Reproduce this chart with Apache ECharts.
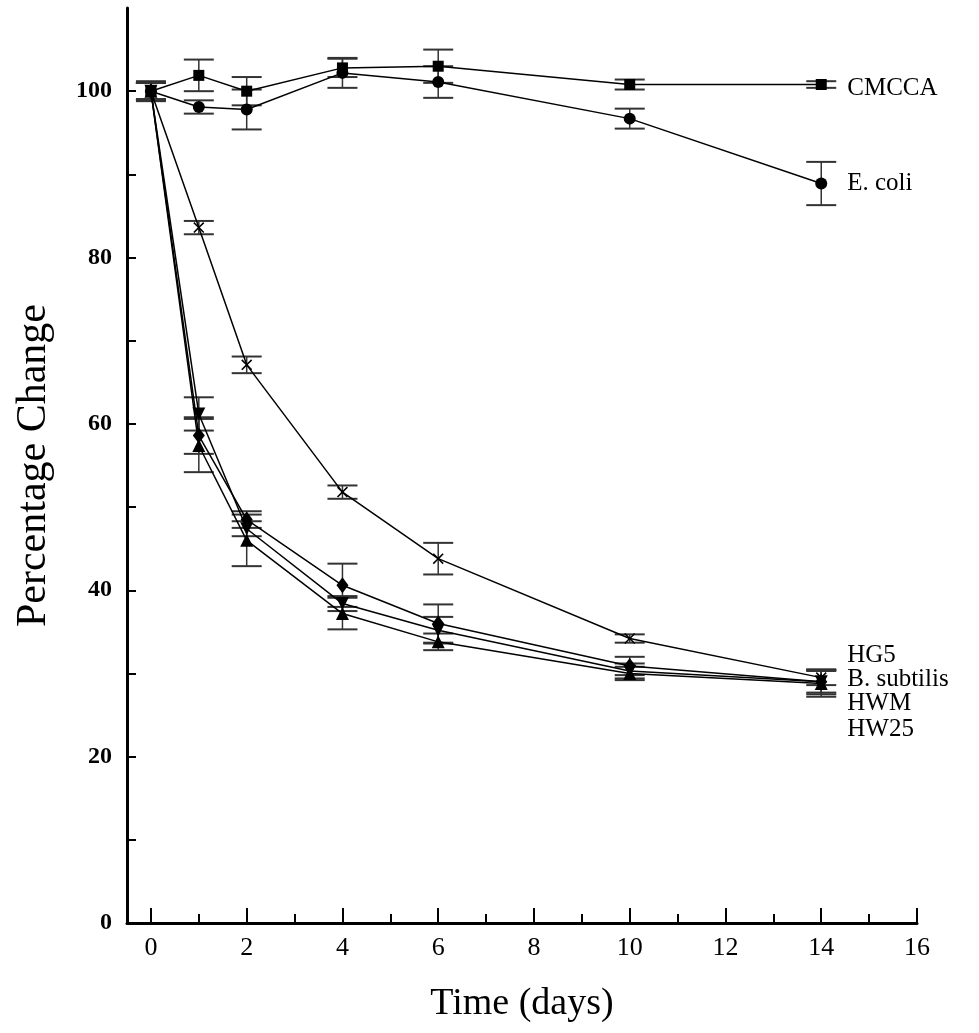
<!DOCTYPE html>
<html>
<head>
<meta charset="utf-8">
<script src="https://cdn.jsdelivr.net/npm/echarts@6.0.0/dist/echarts.min.js"></script>
<style>
  html, body { margin: 0; padding: 0; background: #fff; }
  #chart { width: 979px; height: 1033px; }
</style>
</head>
<body>
<div id="chart"></div>
<script>
// sampling days
const days = [0, 1, 2, 4, 6, 10, 14]

// mean percentage change per series
const cmcca = [100, 101.9, 100.0, 102.8, 103.0, 100.8, 100.8]
const ecoli = [100, 98.1, 97.8, 102.2, 101.1, 96.7, 88.9]
const hg5 = [100, 83.6, 67.1, 51.8, 43.8, 34.2, 29.5]
const bsubtilis = [100, 58.6, 48.5, 40.6, 36.0, 30.9, 29.0]
const hwm = [100, 61.2, 47.4, 38.4, 35.2, 30.3, 29.0]
const hw25 = [100, 57.4, 46.0, 37.2, 33.8, 30.0, 28.8]

// error bar half-heights
const cmccaErr = [1.2, 1.9, 1.7, 1.1, 2.0, 0.6, 0.4]
const ecoliErr = [1.0, 0.8, 2.4, 1.8, 1.9, 1.2, 2.6]
const hg5Err = [1.0, 0.8, 1.0, 0.8, 1.9, 0.5, 0.9]
const bsubtilisErr = [1.0, 2.2, 1.0, 2.6, 2.3, 1.1, 1.3]
const hwmErr = [1.0, 2.0, 0.9, 0.9, 1.6, 0.9, 1.5]
const hw25Err = [1.0, 3.2, 3.1, 1.9, 1.0, 0.8, 1.6]

// axis ticks
const xMajorTicks = [0, 2, 4, 6, 8, 10, 12, 14, 16]
const xMinorTicks = [1, 3, 5, 7, 9, 11, 13, 15]
const yLabels = [0, 20, 40, 60, 80, 100]
const yTicks = [10, 20, 30, 40, 50, 60, 70, 80, 90, 100]

const serif = '"Liberation Serif", "Times New Roman", serif'
const xCross = 'path://M0,1 L1,0 L5,4 L9,0 L10,1 L6,5 L10,9 L9,10 L5,6 L1,10 L0,9 L4,5 Z'

const seriesDefs = [
  { name: 'CMCCA', values: cmcca, err: cmccaErr, symbol: 'rect', size: 11, rotate: 0, labelDy: 4 },
  { name: 'E. coli', values: ecoli, err: ecoliErr, symbol: 'circle', size: 12, rotate: 0, labelDy: 0 },
  { name: 'HG5', values: hg5, err: hg5Err, symbol: xCross, size: 11, rotate: 0, labelDy: -22 },
  { name: 'B. subtilis', values: bsubtilis, err: bsubtilisErr, symbol: 'diamond', size: [12, 16], rotate: 0, labelDy: -2 },
  { name: 'HWM', values: hwm, err: hwmErr, symbol: 'triangle', size: 13, rotate: 180, labelDy: 22 },
  { name: 'HW25', values: hw25, err: hw25Err, symbol: 'triangle', size: 13, rotate: 0, labelDy: 46 }
]

const errorBarRender = (params, api) => {
  const x = api.value(0)
  const lo = api.coord([x, api.value(1)])
  const hi = api.coord([x, api.value(2)])
  const w = 15
  const style = { stroke: '#333', lineWidth: 2 }
  return {
    type: 'group',
    children: [
      { type: 'line', shape: { x1: lo[0], y1: lo[1], x2: hi[0], y2: hi[1] }, style: { stroke: '#333', lineWidth: 1.5 } },
      { type: 'line', shape: { x1: lo[0] - w, y1: lo[1], x2: lo[0] + w, y2: lo[1] }, style },
      { type: 'line', shape: { x1: hi[0] - w, y1: hi[1], x2: hi[0] + w, y2: hi[1] }, style }
    ]
  }
}

const series = []
seriesDefs.forEach(def => {
  series.push({
    name: def.name + ' error',
    type: 'custom',
    xAxisIndex: 0,
    yAxisIndex: 0,
    renderItem: errorBarRender,
    encode: { x: 0, y: [1, 2] },
    data: days.map((d, i) => [d, def.values[i] - def.err[i], def.values[i] + def.err[i]]),
    z: 2,
    silent: true
  })
  series.push({
    name: def.name,
    type: 'line',
    xAxisIndex: 0,
    yAxisIndex: 0,
    data: days.map((d, i) => [d, def.values[i]]),
    symbol: def.symbol,
    symbolSize: def.size,
    symbolRotate: def.rotate,
    showSymbol: true,
    clip: false,
    lineStyle: { color: '#000', width: 1.5 },
    itemStyle: { color: '#000', borderWidth: 0 },
    endLabel: {
      show: true,
      formatter: def.name,
      color: '#000',
      fontFamily: serif,
      fontSize: 25,
      distance: 26,
      offset: [0, def.labelDy]
    },
    z: 3
  })
})

const chart = echarts.init(document.getElementById('chart'))
chart.setOption({
  animation: false,
  backgroundColor: '#fff',
  grid: { left: 127, right: 62, top: 8, bottom: 110, containLabel: false },
  xAxis: [
    {
      type: 'value',
      min: -0.5,
      max: 16,
      name: 'Time (days)',
      nameLocation: 'middle',
      nameGap: 62,
      nameTextStyle: { fontFamily: serif, fontSize: 38, color: '#000' },
      axisLine: { onZero: false, lineStyle: { color: '#000', width: 3 } },
      axisTick: { inside: true, length: 15, customValues: xMajorTicks, lineStyle: { color: '#000', width: 2 } },
      axisLabel: { customValues: xMajorTicks, margin: 12, fontFamily: serif, fontSize: 26, color: '#000' },
      splitLine: { show: false }
    },
    {
      type: 'value',
      min: -0.5,
      max: 16,
      position: 'bottom',
      axisLine: { show: false },
      axisTick: { inside: true, length: 9, customValues: xMinorTicks, lineStyle: { color: '#000', width: 2 } },
      axisLabel: { show: false },
      splitLine: { show: false }
    }
  ],
  yAxis: {
    type: 'value',
    min: 0,
    max: 110,
    name: 'Percentage Change',
    nameLocation: 'middle',
    nameGap: 72,
    nameTextStyle: { fontFamily: serif, fontSize: 42, color: '#000' },
    axisLine: { onZero: false, lineStyle: { color: '#000', width: 3 } },
    axisTick: { inside: true, length: 9, customValues: yTicks, lineStyle: { color: '#000', width: 2 } },
    axisLabel: { customValues: yLabels, margin: 15, fontFamily: serif, fontWeight: 'bold', fontSize: 24, color: '#000' },
    splitLine: { show: false }
  },
  series
})
</script>
</body>
</html>
